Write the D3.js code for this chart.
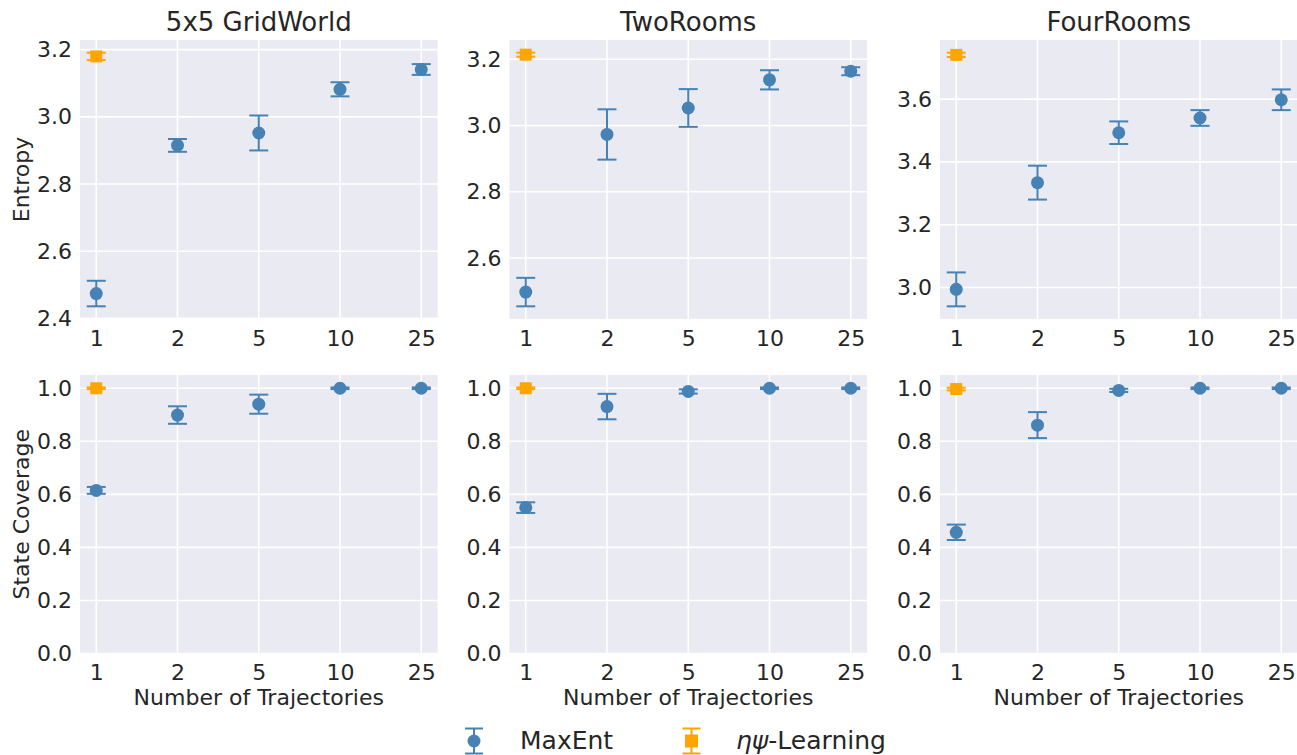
<!DOCTYPE html>
<html><head><meta charset="utf-8">
<script src="https://cdn.jsdelivr.net/npm/d3@7"></script>
<style>body{margin:0;background:#fff}text{font-family:"DejaVu Sans",sans-serif;fill:#262626}</style>
</head>
<body><svg id="chart" width="1297" height="755"></svg>
<script>
// Number of trajectories (categorical x axis)
const trajectories = ["1", "2", "5", "10", "25"];
const envs = ["5x5 GridWorld", "TwoRooms", "FourRooms"];

// Entropy: MaxEnt mean and error per environment
const entropyMaxEnt = [
  [2.474, 2.915, 2.952, 3.082, 3.141],
  [2.497, 2.973, 3.053, 3.138, 3.164],
  [2.994, 3.334, 3.493, 3.540, 3.598]
];
const entropyMaxEntErr = [
  [0.038, 0.019, 0.052, 0.021, 0.016],
  [0.043, 0.076, 0.057, 0.029, 0.012],
  [0.054, 0.054, 0.036, 0.025, 0.033]
];
// Entropy: ηψ-Learning (single trajectory)
const entropyEtaPsi = [3.180, 3.214, 3.741];
const entropyEtaPsiErr = [0.011, 0.006, 0.007];

// State coverage: MaxEnt mean and error
const coverageMaxEnt = [
  [0.615, 0.899, 0.940, 1.0, 1.0],
  [0.550, 0.931, 0.988, 1.0, 1.0],
  [0.457, 0.861, 0.992, 1.0, 1.0]
];
const coverageMaxEntErr = [
  [0.013, 0.033, 0.036, 0.003, 0.003],
  [0.020, 0.048, 0.008, 0.003, 0.003],
  [0.029, 0.049, 0.006, 0.003, 0.003]
];
const coverageEtaPsi = [1.0, 1.0, 0.997];
const coverageEtaPsiErr = [0.003, 0.003, 0.005];

// Tick values
const entropyTicks = [[2.4, 2.6, 2.8, 3.0, 3.2], [2.6, 2.8, 3.0, 3.2], [3.0, 3.2, 3.4, 3.6]];
const coverageTicks = [0.0, 0.2, 0.4, 0.6, 0.8, 1.0];

const BLUE = "#4682b4", ORANGE = "#ffa500", TEXT = "#262626";
const svg = d3.select("#chart");

const colX = [80, 509.5, 940];
const panelW = 357.5;
const rowY = [40, 375];
const panelH = [279, 278.5];

function panel(col, row) {
  const x0 = colX[col], y0 = rowY[row], w = panelW, h = panelH[row];
  const isEntropy = row === 0;
  const means = isEntropy ? entropyMaxEnt[col] : coverageMaxEnt[col];
  const errs = isEntropy ? entropyMaxEntErr[col] : coverageMaxEntErr[col];
  const eMean = isEntropy ? entropyEtaPsi[col] : coverageEtaPsi[col];
  const eErr = isEntropy ? entropyEtaPsiErr[col] : coverageEtaPsiErr[col];
  const ticks = isEntropy ? entropyTicks[col] : coverageTicks;

  let domain;
  if (isEntropy) {
    const lo = Math.min(d3.min(means, (m, i) => m - errs[i]), eMean - eErr);
    const hi = Math.max(d3.max(means, (m, i) => m + errs[i]), eMean + eErr);
    const pad = (hi - lo) * 0.05;
    domain = [lo - pad, hi + pad];
  } else {
    domain = [0, 1.05];
  }

  const x = d3.scalePoint().domain(trajectories).range([x0, x0 + w]).padding(0.2);
  const y = d3.scaleLinear().domain(domain).range([y0 + h, y0]);

  const g = svg.append("g");
  g.append("rect").attr("x", x0).attr("y", y0).attr("width", w).attr("height", h).attr("fill", "#eaeaf2");

  // grid
  g.selectAll(".hg").data(ticks).join("line")
    .attr("x1", x0).attr("x2", x0 + w)
    .attr("y1", d => y(d)).attr("y2", d => y(d))
    .attr("stroke", "#fff").attr("stroke-width", 1.6);
  g.selectAll(".vg").data(trajectories).join("line")
    .attr("x1", d => x(d)).attr("x2", d => x(d))
    .attr("y1", y0).attr("y2", y0 + h)
    .attr("stroke", "#fff").attr("stroke-width", 1.6);

  // axes (labels only)
  const yAxis = d3.axisLeft(y).tickValues(ticks).tickFormat(d3.format(".1f")).tickSize(0).tickPadding(8);
  const ya = g.append("g").attr("transform", `translate(${x0},0)`).call(yAxis);
  const xAxis = d3.axisBottom(x).tickSize(0).tickPadding(11);
  const xa = g.append("g").attr("transform", `translate(0,${y0 + h})`).call(xAxis);
  [ya, xa].forEach(a => {
    a.select(".domain").remove();
    a.selectAll("text").attr("font-size", 22).attr("fill", TEXT).style("font-family", '"DejaVu Sans"');
  });

  // MaxEnt error bars and markers
  const cap = 9.5;
  const eb = g.append("g").attr("stroke", BLUE).attr("stroke-width", 2).attr("fill", "none");
  trajectories.forEach((t, i) => {
    const cx = x(t), yt = y(means[i] + errs[i]), yb = y(means[i] - errs[i]);
    eb.append("line").attr("x1", cx).attr("x2", cx).attr("y1", yt).attr("y2", yb);
    eb.append("line").attr("x1", cx - cap).attr("x2", cx + cap).attr("y1", yt).attr("y2", yt);
    eb.append("line").attr("x1", cx - cap).attr("x2", cx + cap).attr("y1", yb).attr("y2", yb);
  });
  g.selectAll(".pt").data(means).join("circle")
    .attr("cx", (d, i) => x(trajectories[i])).attr("cy", d => y(d)).attr("r", 6.5).attr("fill", BLUE);

  // ηψ-Learning point
  const ex = x(trajectories[0]);
  const eg = g.append("g").attr("stroke", ORANGE).attr("stroke-width", 2);
  [eMean + eErr, eMean - eErr].forEach(v => {
    eg.append("line").attr("x1", ex - cap).attr("x2", ex + cap).attr("y1", y(v)).attr("y2", y(v));
  });
  eg.append("line").attr("x1", ex).attr("x2", ex).attr("y1", y(eMean + eErr)).attr("y2", y(eMean - eErr));
  g.append("rect").attr("x", ex - 6).attr("y", y(eMean) - 6).attr("width", 12).attr("height", 12).attr("fill", ORANGE);

  if (row === 0) {
    g.append("text").attr("x", x0 + w / 2).attr("y", 30.5).attr("text-anchor", "middle")
      .attr("font-size", 26).text(envs[col]);
  } else {
    g.append("text").attr("x", x0 + w / 2).attr("y", 705).attr("text-anchor", "middle")
      .attr("font-size", 22).text("Number of Trajectories");
  }
  if (col === 0) {
    const cy = y0 + h / 2;
    g.append("text").attr("transform", `translate(29,${cy}) rotate(-90)`).attr("text-anchor", "middle")
      .attr("font-size", 22).text(isEntropy ? "Entropy" : "State Coverage");
  }
}

for (let r = 0; r < 2; r++) for (let c = 0; c < 3; c++) panel(c, r);

// Legend
const legend = svg.append("g");
const legendItems = [
  { color: BLUE, shape: "circle", x: 474 },
  { color: ORANGE, shape: "square", x: 691.5 }
];
const ly = 741;
legendItems.forEach(it => {
  const lg = legend.append("g").attr("stroke", it.color).attr("stroke-width", 2);
  lg.append("line").attr("x1", it.x).attr("x2", it.x).attr("y1", ly - 12.5).attr("y2", ly + 12.5);
  lg.append("line").attr("x1", it.x - 9).attr("x2", it.x + 9).attr("y1", ly - 12.5).attr("y2", ly - 12.5);
  lg.append("line").attr("x1", it.x - 9).attr("x2", it.x + 9).attr("y1", ly + 12.5).attr("y2", ly + 12.5);
  if (it.shape === "circle") {
    legend.append("circle").attr("cx", it.x).attr("cy", ly).attr("r", 6.5).attr("fill", it.color);
  } else {
    legend.append("rect").attr("x", it.x - 6.5).attr("y", ly - 6.5).attr("width", 13).attr("height", 13).attr("fill", it.color);
  }
});
legend.append("text").attr("x", 520).attr("y", 748.5).attr("font-size", 25).text("MaxEnt");
const t2 = legend.append("text").attr("x", 736).attr("y", 748.5).attr("font-size", 25);
t2.append("tspan").attr("font-style", "italic").text("ηψ");
t2.append("tspan").text("-Learning");
</script>
</body></html>
